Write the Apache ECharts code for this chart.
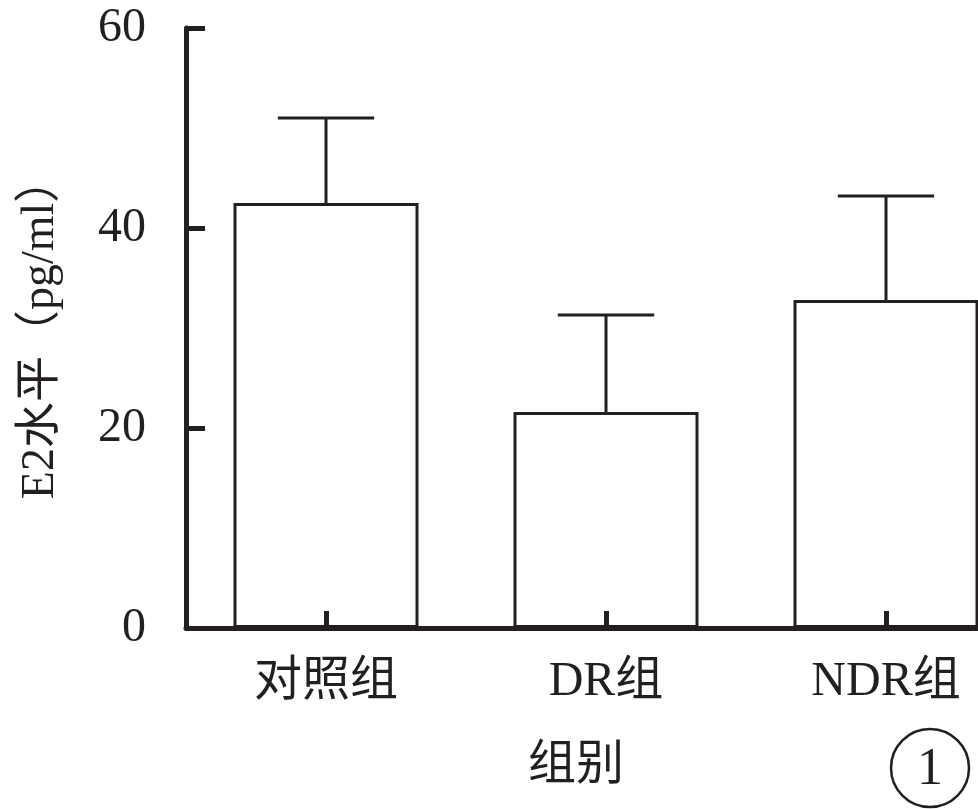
<!DOCTYPE html>
<html>
<head>
<meta charset="utf-8">
<script src="https://cdn.jsdelivr.net/npm/echarts@6/dist/echarts.min.js"></script>
<style>
html,body{margin:0;padding:0;background:#fff;overflow:hidden;width:978px;height:809px;}
#main{width:1026px;height:809px;}
</style>
</head>
<body>
<div id="main"></div>
<script>
var categories = ['对照组', 'DR组', 'NDR组'];
var means = [42.5, 21.6, 32.8];
var sds = [8.5, 9.7, 10.4];
var yTicks = [0, 20, 40, 60];
var yAxisName = 'E2水平（pg/ml）';
var xAxisName = '组别';
var panelLabel = '1';

var FONT = '"Liberation Serif", "Noto Sans CJK SC", serif';
var INK = '#231f20';

var chart = echarts.init(document.getElementById('main'));
var errData = categories.map(function (c, i) { return [i, means[i], means[i] + sds[i]]; });

chart.setOption({
  animation: false,
  backgroundColor: '#fff',
  grid: { left: 186, top: 28, right: 0, bottom: 181, containLabel: false },
  xAxis: {
    type: 'category',
    data: categories,
    boundaryGap: true,
    z: 10,
    axisLine: { show: true, lineStyle: { color: INK, width: 5 } },
    axisTick: { show: true, inside: true, alignWithLabel: true, length: 17, lineStyle: { color: INK, width: 5 } },
    axisLabel: { color: INK, fontSize: 48, fontFamily: FONT, margin: 30 },
    splitLine: { show: false }
  },
  yAxis: {
    type: 'value',
    min: yTicks[0],
    max: yTicks[yTicks.length - 1],
    interval: 20,
    z: 10,
    name: yAxisName,
    nameLocation: 'middle',
    nameGap: 122,
    nameRotate: 90,
    nameTextStyle: { color: INK, fontSize: 46, fontFamily: FONT },
    axisLine: { show: true, lineStyle: { color: INK, width: 5 } },
    axisTick: { show: true, inside: true, length: 19, lineStyle: { color: INK, width: 5 } },
    axisLabel: { color: INK, fontSize: 48, fontFamily: FONT, margin: 40 },
    splitLine: { show: false }
  },
  series: [
    {
      type: 'bar',
      data: means,
      barWidth: 185,
      itemStyle: { color: '#fff', borderColor: INK, borderWidth: 3 },
      z: 2
    },
    {
      type: 'custom',
      data: errData,
      z: 3,
      renderItem: function (params, api) {
        var x = api.value(0);
        var lo = api.coord([x, api.value(1)]);
        var hi = api.coord([x, api.value(2)]);
        var half = api.size([1, 0])[0] * 0.172;
        var st = { stroke: INK, lineWidth: 3 };
        return {
          type: 'group',
          children: [
            { type: 'line', shape: { x1: lo[0], y1: lo[1], x2: hi[0], y2: hi[1] }, style: st },
            { type: 'line', shape: { x1: hi[0] - half, y1: hi[1], x2: hi[0] + half, y2: hi[1] }, style: st }
          ]
        };
      }
    }
  ],
  graphic: [
    {
      type: 'text',
      left: 528, top: 742,
      style: { text: xAxisName, font: '48px ' + FONT, fill: INK }
    },
    {
      type: 'circle',
      shape: { cx: 930, cy: 768, r: 39 },
      style: { fill: 'none', stroke: INK, lineWidth: 2.5 }
    },
    {
      type: 'text',
      x: 930, y: 770,
      style: { text: panelLabel, font: '52px ' + FONT, fill: INK, align: 'center', verticalAlign: 'middle' }
    }
  ]
});
</script>
</body>
</html>
